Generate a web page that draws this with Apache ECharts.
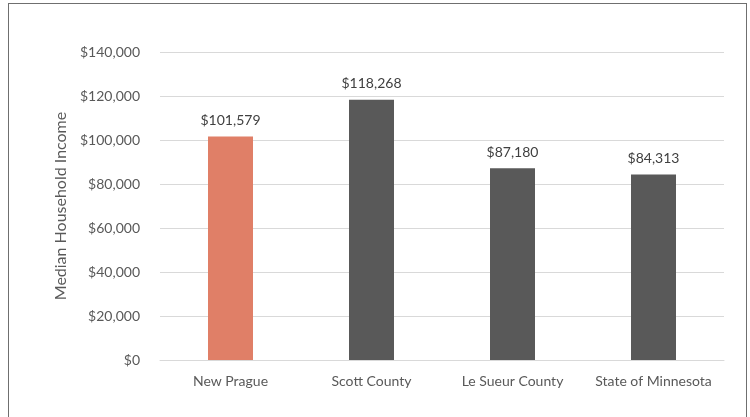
<!DOCTYPE html>
<html>
<head>
<meta charset="utf-8">
<script src="https://cdn.jsdelivr.net/npm/echarts@6/dist/echarts.min.js"></script>
<style>
  html, body { margin: 0; padding: 0; background: #fff; }
  #frame {
    position: absolute; left: 8px; top: 3px;
    width: 739px; height: 430px;
    border: 1.5px solid #6f6f6f; box-sizing: border-box;
  }
  #main { position: absolute; left: 0; top: 0; width: 750px; height: 417px; }
</style>
</head>
<body>
<div id="frame"></div>
<div id="main"></div>
<script>
  // places and median household income
  const categories = ['New Prague', 'Scott County', 'Le Sueur County', 'State of Minnesota'];
  const incomes = [101579, 118268, 87180, 84313];
  const barColors = ['#e07f67', '#595959', '#595959', '#595959'];

  const money = v => '$' + v.toLocaleString('en-US');

  let chart = echarts.init(document.getElementById('main'));
  chart.setOption({
    animation: false,
    textStyle: { fontFamily: 'Lato' },
    grid: { left: 160, right: 26, top: 52, bottom: 57 },
    xAxis: {
      type: 'category',
      data: categories,
      axisLine: { lineStyle: { color: '#d9d9d9', width: 1 } },
      axisTick: { show: false },
      axisLabel: { color: '#595959', fontSize: 14, margin: 14, interval: 0 }
    },
    yAxis: {
      type: 'value',
      min: 0,
      max: 140000,
      interval: 20000,
      name: 'Median Household Income',
      nameLocation: 'middle',
      nameGap: 90,
      nameTextStyle: { color: '#595959', fontSize: 16 },
      axisLine: { show: false },
      axisTick: { show: false },
      axisLabel: { color: '#595959', fontSize: 14, margin: 20, formatter: money },
      splitLine: { lineStyle: { color: '#d9d9d9', width: 1 } }
    },
    series: [{
      type: 'bar',
      barWidth: 45,
      data: incomes.map((v, i) => ({ value: v, itemStyle: { color: barColors[i] } })),
      label: {
        show: true,
        position: 'top',
        distance: 9,
        color: '#404040',
        fontSize: 14,
        formatter: p => money(p.value)
      }
    }]
  });
</script>
</body>
</html>
